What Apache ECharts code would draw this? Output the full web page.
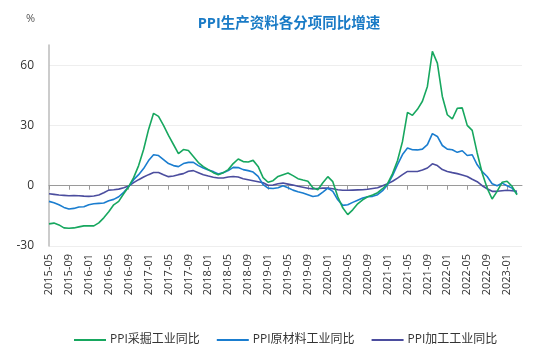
<!DOCTYPE html>
<html>
<head>
<meta charset="utf-8">
<script src="https://cdn.jsdelivr.net/npm/echarts@6/dist/echarts.min.js"></script>
<style>html,body{margin:0;padding:0;background:#fff}#c{width:550px;height:359px}</style>
</head>
<body>
<div id="c"></div>
<script>
const titleText = 'PPI生产资料各分项同比增速';
const unitText = '%';
const seriesNames = ['PPI采掘工业同比', 'PPI原材料工业同比', 'PPI加工工业同比'];
const startYear = 2015, startMonth = 5, monthCount = 96;
const categories = [];
for (let k = 0; k < monthCount; k++) {
  const m = startMonth - 1 + k;
  const y = startYear + Math.floor(m / 12);
  const mm = (m % 12) + 1;
  categories.push(y + '-' + (mm < 10 ? '0' + mm : mm));
}
const yTicks = [-30, 0, 30, 60];
const mining = [
  -19, -18.6, -19.5, -21, -21.2, -21, -20.5, -20, -20, -20,
  -18.5, -16, -13, -9.5, -7.8, -4, -0.5, 4, 10, 18,
  28, 36, 34.5, 30, 25, 20.5, 16, 18, 17.5, 14.5,
  11.5, 9.5, 8, 6.5, 5.5, 6.5, 8, 11, 13.3, 12,
  11.8, 12.6, 9.6, 4, 1.7, 2.5, 4.6, 5.5, 6.3, 5,
  3.5, 2.8, 2.2, -1, -2, 1.5, 4.5, 2, -5.5, -11,
  -14.4, -12, -9, -7, -5.5, -4.6, -3.5, -1.5, 1, 6,
  12.5, 22, 36.5, 35, 38, 42, 49.4, 66.8, 61, 44.4,
  35.3, 33.2, 38.5, 38.7, 30, 27.5, 16.3, 6.3, -1.2, -6.6,
  -2.8, 1.7, 2.2, -0.3, -4.5, null
];
const rawMat = [
  -7.8, -8.5, -9.5, -10.8, -11.6, -11.3, -10.6, -10.5, -9.5, -9,
  -8.8, -8.6, -7.5, -6.8, -5.5, -3.3, -0.5, 3, 5.5, 8.5,
  12.5, 15.4, 15, 13, 11, 10, 9.5, 11, 11.6, 11.6,
  10, 8.8, 7.8, 7, 5.8, 6.5, 7.5, 9.1, 9, 8,
  7.5, 6.8, 4.6, 0.5, -1.2, -1.4, -1, 0, -1, -2.2,
  -3, -3.6, -4.5, -5.4, -5, -3.2, -1.2, -2.8, -7, -9.8,
  -9.5, -8.3, -7.2, -6.1, -5.5, -5.3, -4.5, -2.5, 0.5, 5,
  10.5, 15.5, 18.7, 17.9, 17.8, 18.2, 20.4, 25.9, 24.5, 20,
  18.2, 17.9, 16.6, 17.4, 15, 15.4, 10.4, 7, 4.6, 1,
  0, 1.3, 0, -1.2, -4, null
];
const processing = [
  -4, -4.3, -4.6, -4.8, -5, -4.9, -5, -5.2, -5.3, -5.1,
  -4.6, -3.5, -2.2, -2, -1.7, -1, -0.2, 1.5, 3, 4.3,
  5.5, 6.6, 6.6, 5.5, 4.5, 4.8, 5.5, 6, 7.2, 7.5,
  6.5, 5.5, 4.8, 4.2, 3.8, 3.8, 4.3, 4.6, 4.3, 3.5,
  3, 2.5, 2, 1.5, 0.2, 0.3, 1, 1.3, 0.8, 0.3,
  -0.3, -0.8, -1.3, -1.6, -1.4, -1.2, -1.2, -1.5, -2, -2.3,
  -2.3, -2.2, -2.1, -2, -1.8, -1.4, -1, 0, 1, 2.2,
  3.8, 5.5, 7.1, 7.1, 7.1, 7.8, 8.8, 10.9, 10, 8,
  7.1, 6.5, 6, 5.3, 4.6, 3.2, 2, 0, -1.5, -2.8,
  -2.8, -2.5, -2.3, -2.5, -2.8, null
];
const colors = ['#17a75f', '#1a7dcf', '#4b4d9e'];
const FONT = '"Open Sans","Noto Sans CJK SC",sans-serif';

const chart = echarts.init(document.getElementById('c'), null, {renderer: 'canvas'});
const seriesData = [mining, rawMat, processing];
chart.setOption({
  animation: false,
  color: colors,
  textStyle: {fontFamily: FONT},
  title: {
    text: titleText, left: 284, top: 12, textAlign: 'center',
    textStyle: {color: '#1a7bc6', fontSize: 14.5, fontWeight: 'bold', fontFamily: FONT}
  },
  graphic: [{
    type: 'text', left: 26, top: 13,
    style: {text: unitText, fill: '#555', fontSize: 11, fontFamily: FONT}
  }],
  legend: {
    left: 69, top: 329, itemWidth: 32, itemHeight: 2, itemGap: 17, icon: 'rect',
    textStyle: {color: '#333', fontSize: 12, fontFamily: FONT, padding: [0, 0, 0, -1]},
    data: seriesNames
  },
  grid: {left: 49, right: 28, top: 45, bottom: 113, containLabel: false},
  xAxis: [{
    type: 'category', data: categories, boundaryGap: false,
    axisLine: {show: false, onZero: false}, axisTick: {show: false},
    axisLabel: {interval: 3, rotate: 90, fontSize: 11, color: '#333', margin: 8, fontFamily: FONT},
    splitLine: {show: false}
  }, {
    type: 'category', data: categories, boundaryGap: false, position: 'bottom',
    axisLine: {show: true, onZero: true, lineStyle: {color: '#9a9a9a', width: 1}},
    axisTick: {show: true, interval: 3, length: 4, lineStyle: {color: '#9a9a9a'}},
    axisLabel: {show: false}
  }],
  yAxis: {
    type: 'value', min: yTicks[0], max: 70, interval: 30,
    axisLine: {show: true, lineStyle: {color: '#bbb', width: 1.5}},
    axisTick: {show: false},
    axisLabel: {fontSize: 12, color: '#333', margin: 15, fontFamily: FONT,
      formatter: v => (yTicks.indexOf(v) >= 0 ? String(v) : '')},
    splitLine: {show: true, lineStyle: {color: ['#eeeeee', 'rgba(0,0,0,0)', '#eeeeee', '#eeeeee', 'rgba(0,0,0,0)']}}
  },
  series: seriesNames.map((n, k) => ({
    name: n, type: 'line', data: seriesData[k], xAxisIndex: 0,
    symbol: 'none', showSymbol: false, smooth: false,
    lineStyle: {width: 1.6, color: colors[k]}, itemStyle: {color: colors[k]},
    z: 3 - k
  }))
});
</script>
</body>
</html>
